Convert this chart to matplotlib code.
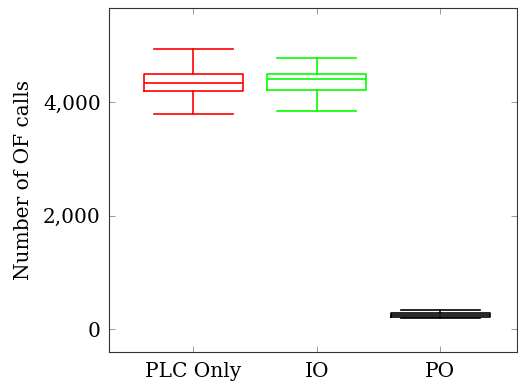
import matplotlib
matplotlib.use("Agg")
import matplotlib.pyplot as plt
from matplotlib.ticker import FuncFormatter

plt.rcParams['font.family'] = ['DejaVu Serif']

labels = ["PLC Only", "IO", "PO"]
colors = ["#ff0000", "#00ff00", "#000000"]
whislo = [3785, 3835, 195]
q1 = [4185, 4205, 215]
med = [4340, 4405, 250]
q3 = [4495, 4500, 280]
whishi = [4930, 4780, 340]

stats = []
for i in range(len(labels)):
    stats.append(dict(label=labels[i], whislo=whislo[i], q1=q1[i], med=med[i],
                      q3=q3[i], whishi=whishi[i], fliers=[]))

fig = plt.figure(figsize=(5.18, 3.88), dpi=100)
ax = fig.add_axes([109/518, 1 - 352/388, (517-109)/518, (352-8)/388])

for i in range(len(stats)):
    c = colors[i]
    ax.bxp([stats[i]], positions=[i + 1], widths=0.8, showfliers=False,
           boxprops=dict(color=c, linewidth=1.2),
           whiskerprops=dict(color=c, linewidth=1.2),
           capprops=dict(color=c, linewidth=1.2),
           medianprops=dict(color=c, linewidth=1.2),
           capwidths=0.64)

ax.set_xlim(0.32, 3.62)
ax.set_ylim(-405, 5656)
ax.set_xticks([1, 2, 3])
ax.set_xticklabels(labels)
ax.set_yticks([0, 2000, 4000])
ax.yaxis.set_major_formatter(FuncFormatter(lambda v, p: f"{int(v):,}"))
ax.tick_params(direction="in", length=4, width=0.6, color="#888888",
               top=True, right=True, labelsize=14.5)
ax.tick_params(axis="x", pad=7)
ax.tick_params(axis="y", pad=6)
for s in ax.spines.values():
    s.set_linewidth(0.8)
    s.set_color("#333333")
ax.set_ylabel("Number of OF calls", fontsize=14.5, labelpad=7)

fig.savefig("out.png", dpi=100)
